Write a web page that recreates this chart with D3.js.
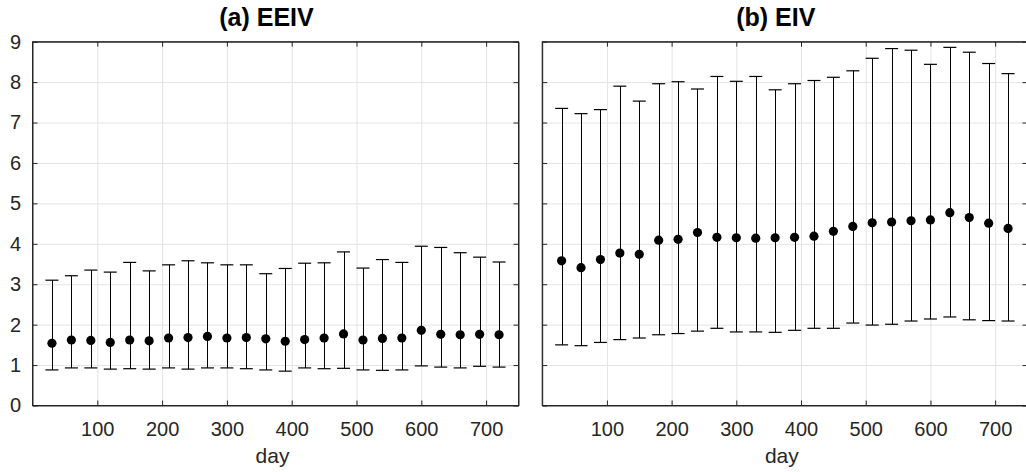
<!DOCTYPE html>
<html>
<head>
<meta charset="utf-8">
<script src="https://cdn.jsdelivr.net/npm/d3@7"></script>
<style>
  body { margin: 0; background: #fff; }
  svg { display: block; font-family: "Liberation Sans", Arial, sans-serif; }
</style>
</head>
<body>
<div id="chart"></div>
<script>
// days at which the estimates were taken
var days = [30, 60, 90, 120, 150, 180, 210, 240, 270, 300, 330, 360,
            390, 420, 450, 480, 510, 540, 570, 600, 630, 660, 690, 720];

// (a) EEIV
var eeivMid = [1.54, 1.62, 1.61, 1.56, 1.62, 1.60, 1.67, 1.68, 1.71, 1.67, 1.68, 1.65,
               1.59, 1.63, 1.67, 1.77, 1.62, 1.66, 1.67, 1.86, 1.76, 1.75, 1.76, 1.75];
var eeivLow = [0.88, 0.93, 0.93, 0.90, 0.91, 0.90, 0.93, 0.90, 0.93, 0.93, 0.91, 0.88,
               0.85, 0.93, 0.91, 0.92, 0.88, 0.87, 0.88, 0.98, 0.95, 0.93, 0.97, 0.95];
var eeivHigh = [3.10, 3.21, 3.35, 3.30, 3.54, 3.33, 3.48, 3.58, 3.53, 3.48, 3.48, 3.26,
                3.39, 3.52, 3.53, 3.80, 3.40, 3.61, 3.54, 3.94, 3.91, 3.78, 3.67, 3.55];

// (b) EIV
var eivMid = [3.58, 3.41, 3.61, 3.77, 3.74, 4.09, 4.11, 4.28, 4.16, 4.15, 4.14, 4.15,
              4.16, 4.19, 4.31, 4.43, 4.52, 4.54, 4.57, 4.59, 4.77, 4.65, 4.51, 4.38];
var eivLow = [1.50, 1.48, 1.56, 1.63, 1.67, 1.75, 1.78, 1.84, 1.91, 1.82, 1.82, 1.81,
              1.86, 1.91, 1.91, 2.04, 1.99, 2.01, 2.09, 2.14, 2.19, 2.12, 2.10, 2.09];
var eivHigh = [7.35, 7.22, 7.32, 7.90, 7.53, 7.96, 8.01, 7.83, 8.14, 8.02, 8.14, 7.81,
               7.96, 8.04, 8.12, 8.28, 8.59, 8.83, 8.79, 8.44, 8.86, 8.74, 8.46, 8.21];

var xTicks = [100, 200, 300, 400, 500, 600, 700];
var yTicks = [0, 1, 2, 3, 4, 5, 6, 7, 8, 9];

var W = 1026, H = 472;
var plotTop = 41.7, plotBottom = 405.5;
var axisColor = "#262626", gridColor = "#e3e3e3";

var svg = d3.select("#chart").append("svg")
    .attr("width", W).attr("height", H);

var y = d3.scaleLinear().domain([0, 9]).range([plotBottom, plotTop]);

function drawPanel(left, right, title, mid, low, high, showY) {
    var x = d3.scaleLinear().domain([0, 750]).range([left, right]);
    var g = svg.append("g");
    var w = right - left, h = plotBottom - plotTop;

    // grid
    g.append("g")
     .attr("transform", "translate(0," + plotBottom + ")")
     .call(d3.axisBottom(x).tickValues(xTicks).tickSize(-h).tickFormat(""))
     .call(function(s) { s.select(".domain").remove(); })
     .selectAll("line").attr("stroke", gridColor);
    g.append("g")
     .attr("transform", "translate(" + left + ",0)")
     .call(d3.axisLeft(y).tickValues(yTicks.slice(1, -1)).tickSize(-w).tickFormat(""))
     .call(function(s) { s.select(".domain").remove(); })
     .selectAll("line").attr("stroke", gridColor);

    // error bars
    var pts = days.map(function(d, i) { return {d: d, m: mid[i], lo: low[i], hi: high[i]}; });
    var bars = g.selectAll(".bar").data(pts).enter().append("g");
    bars.append("line")
        .attr("x1", function(p) { return Math.round(x(p.d)) + 0.5; })
        .attr("x2", function(p) { return Math.round(x(p.d)) + 0.5; })
        .attr("y1", function(p) { return y(p.lo); })
        .attr("y2", function(p) { return y(p.hi); })
        .attr("stroke", "#000").attr("stroke-width", 1);
    ["lo", "hi"].forEach(function(k) {
        bars.append("line")
            .attr("x1", function(p) { return x(p.d) - 6.5; })
            .attr("x2", function(p) { return x(p.d) + 6.5; })
            .attr("y1", function(p) { return y(p[k]); })
            .attr("y2", function(p) { return y(p[k]); })
            .attr("stroke", "#000").attr("stroke-width", 1.2);
    });
    bars.append("circle")
        .attr("cx", function(p) { return x(p.d); })
        .attr("cy", function(p) { return y(p.m); })
        .attr("r", 4.6)
        .attr("fill", "#000");

    // axes with inward ticks, box on
    var ax = [];
    ax.push(g.append("g")
     .attr("transform", "translate(0," + plotBottom + ")")
     .call(d3.axisBottom(x).tickValues(xTicks).tickSizeInner(-5).tickSizeOuter(0).tickPadding(16)));
    ax.push(g.append("g")
     .attr("transform", "translate(0," + plotTop + ")")
     .call(d3.axisTop(x).tickValues(xTicks).tickSizeInner(-5).tickSizeOuter(0).tickFormat("")));
    var yl = g.append("g")
     .attr("transform", "translate(" + left + ",0)")
     .call(d3.axisLeft(y).tickValues(yTicks).tickSizeInner(-5).tickSizeOuter(0).tickPadding(11.5));
    ax.push(yl);
    if (!showY) yl.selectAll("text").remove();
    ax.push(g.append("g")
     .attr("transform", "translate(" + right + ",0)")
     .call(d3.axisRight(y).tickValues(yTicks).tickSizeInner(-5).tickSizeOuter(0).tickFormat("")));

    ax.forEach(function(a) {
        a.attr("font-size", 20).attr("font-family", null);
        a.selectAll(".domain").attr("stroke", axisColor);
        a.selectAll(".tick line").attr("stroke", axisColor);
        a.selectAll(".tick text").attr("fill", axisColor);
    });

    g.append("rect")
     .attr("x", left).attr("y", plotTop).attr("width", w).attr("height", h)
     .attr("fill", "none").attr("stroke", axisColor).attr("stroke-width", 1);

    g.append("text")
     .attr("x", (left + right) / 2 - 9).attr("y", 25.5)
     .attr("text-anchor", "middle")
     .attr("font-size", 25).attr("font-weight", "bold").attr("fill", "#000")
     .text(title);
    g.append("text")
     .attr("x", (left + right) / 2 - 3).attr("y", 463)
     .attr("text-anchor", "middle")
     .attr("font-size", 21).attr("fill", axisColor)
     .text("day");
}

drawPanel(32.5, 518.5, "(a) EEIV", eeivMid, eeivLow, eeivHigh, true);
drawPanel(542.2, 1027.5, "(b) EIV", eivMid, eivLow, eivHigh, false);
</script>
</body>
</html>
